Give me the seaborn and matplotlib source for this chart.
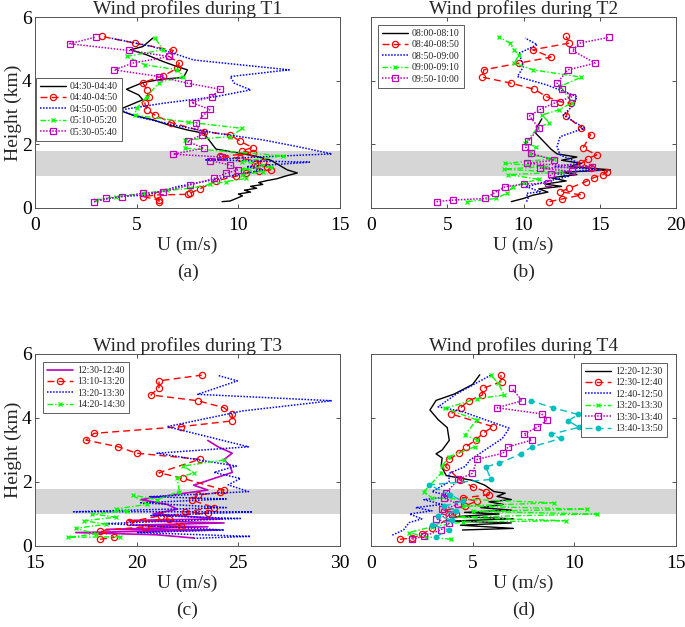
import numpy as np
import seaborn as sns
import matplotlib
matplotlib.use("Agg")
import matplotlib.pyplot as plt

# ---------------- datos ----------------
# (a) T1
t1_labels = ["04:30-04:40", "04:40-04:50", "04:50-05:00", "05:10-05:20", "05:30-05:40"]
t1_k_u = [9.2, 9.6, 9.9, 10.2, 10.0, 10.6, 10.3, 10.9, 10.6, 11.2, 11.0, 11.4, 11.9, 12.3, 12.9,
          12.4, 12.0, 11.6, 10.9, 10.1, 8.9, 8.6, 8.3, 7.5, 6.6, 5.8, 4.8, 4.1, 4.7, 5.3, 5.1,
          4.5, 5.3, 6.3, 7.3, 7.5, 7.0, 6.3, 5.5, 4.7, 5.3, 5.8]
t1_k_h = [0.2, 0.22, 0.3, 0.38, 0.44, 0.5, 0.56, 0.62, 0.68, 0.74, 0.8, 0.86, 0.92, 1.0, 1.1,
          1.2, 1.35, 1.5, 1.62, 1.72, 1.85, 2.1, 2.35, 2.45, 2.6, 2.77, 2.92, 3.08, 3.24, 3.4, 3.55,
          3.73, 3.94, 4.05, 4.1, 4.34, 4.44, 4.6, 4.81, 4.97, 5.07, 5.34]
t1_r_u = [6.1, 6.1, 5.3, 6.0, 7.5, 7.6, 8.1, 8.9, 9.9, 10.4, 11.0, 11.6, 11.4, 10.8, 11.2, 10.1,
          9.1, 10.7, 10.2, 10.7, 10.1, 9.6, 8.3, 6.7, 5.9, 5.5, 5.4, 5.6, 5.5, 5.3, 6.3, 7.0, 7.1,
          6.6, 6.8, 4.9, 3.3]
t1_r_h = [0.18, 0.25, 0.36, 0.41, 0.43, 0.46, 0.6, 0.85, 1.0, 1.1, 1.15, 1.2, 1.3, 1.38, 1.45,
          1.56, 1.62, 1.72, 1.8, 1.9, 2.09, 2.3, 2.4, 2.68, 2.92, 3.08, 3.29, 3.5, 3.71, 3.94, 4.15,
          4.39, 4.55, 4.76, 4.95, 5.18, 5.39]
t1_b_u = [3.2, 4.2, 5.5, 7.0, 8.3, 9.9, 11.2, 10.4, 13.5, 8.4, 11.2, 14.6, 12.9, 11.2, 8.9, 6.8,
          5.0, 4.2, 6.3, 8.9, 10.6, 9.8, 9.6, 12.5, 7.8, 5.8, 3.7]
t1_b_h = [0.25, 0.36, 0.41, 0.67, 0.83, 1.04, 1.19, 1.3, 1.44, 1.51, 1.61, 1.7, 1.93, 2.14, 2.35,
          2.61, 2.87, 3.08, 3.29, 3.5, 3.71, 3.92, 4.13, 4.34, 4.65, 5.07, 5.34]
t1_g_u = [3.0, 4.0, 5.3, 6.5, 7.6, 8.6, 9.4, 10.4, 10.2, 11.2, 10.2, 11.6, 10.2, 12.2, 7.4, 7.4,
          9.6, 10.2, 7.5, 4.9, 5.0, 5.5, 6.1, 7.3, 7.0, 5.4, 4.5, 6.3, 5.9]
t1_g_h = [0.25, 0.36, 0.46, 0.55, 0.62, 0.74, 0.83, 0.93, 1.04, 1.14, 1.22, 1.3, 1.46, 1.64, 1.88,
          2.14, 2.24, 2.5, 2.7, 2.92, 3.13, 3.5, 3.94, 4.13, 4.34, 4.5, 4.76, 4.97, 5.34]
t1_m_u = [2.9, 3.5, 4.3, 5.3, 6.3, 7.6, 8.8, 9.4, 10.0, 9.6, 8.6, 9.2, 6.8, 8.3, 7.5, 8.2, 7.9,
          8.3, 8.6, 7.7, 8.7, 9.1, 7.5, 6.1, 3.9, 4.8, 6.6, 4.6, 1.7, 3.0]
t1_m_h = [0.2, 0.3, 0.36, 0.46, 0.51, 0.72, 0.93, 1.09, 1.2, 1.35, 1.49, 1.6, 1.69, 1.88, 2.09,
          2.3, 2.66, 2.92, 3.1, 3.31, 3.5, 3.73, 3.92, 4.13, 4.34, 4.55, 4.76, 4.95, 5.16, 5.37]

# (b) T2
t2_labels = ["08:00-08:10", "08:40-08:50", "08:50-09:00", "09:00-09:10", "09:50-10:00"]
t2_k_u = [9.2, 10.0, 10.6, 11.6, 11.0, 12.5, 11.4, 12.8, 11.8, 13.5, 12.5, 15.7, 13.0, 13.8, 12.5,
          13.5, 12.2, 11.8, 11.3, 10.8, 10.9, 11.2]
t2_k_h = [0.2, 0.3, 0.4, 0.5, 0.6, 0.68, 0.75, 0.85, 0.95, 1.05, 1.12, 1.2, 1.3, 1.4, 1.5, 1.6,
          1.7, 1.85, 2.1, 2.35, 2.55, 2.8]
t2_r_u = [11.7, 12.5, 13.8, 12.4, 13.0, 14.1, 14.6, 15.2, 15.5, 14.4, 13.8, 14.2, 14.8, 13.9, 14.4,
          13.8, 12.8, 13.1, 12.4, 11.5, 10.7, 9.2, 7.3, 7.4, 9.7, 11.8, 10.6, 13.0, 12.8]
t2_r_h = [0.2, 0.28, 0.41, 0.51, 0.62, 0.83, 0.95, 1.05, 1.14, 1.25, 1.4, 1.55, 1.67, 1.88, 2.3,
          2.51, 2.89, 3.29, 3.34, 3.5, 3.73, 3.92, 4.11, 4.34, 4.55, 4.74, 4.97, 5.18, 5.39]
t2_b_u = [10.2, 10.3, 10.2, 11.1, 10.2, 11.5, 13.0, 12.0, 15.0, 12.0, 13.7, 12.4, 12.2, 12.4, 14.0,
          12.6, 13.3, 13.5, 11.5, 9.6, 10.0, 9.7, 10.9, 10.1]
t2_b_h = [0.2, 0.3, 0.46, 0.51, 0.67, 0.83, 1.0, 1.1, 1.2, 1.3, 1.4, 1.67, 1.93, 2.24, 2.51, 2.92,
          3.24, 3.5, 3.87, 4.13, 4.44, 4.86, 5.13, 5.34]
t2_g_u = [6.3, 8.2, 8.9, 9.3, 10.0, 11.0, 9.0, 12.5, 8.7, 11.5, 8.8, 12.0, 10.4, 10.8, 10.1, 10.9,
          11.7, 11.2, 12.3, 13.2, 12.4, 13.8, 10.6, 9.4, 9.7, 9.4, 9.1, 8.4]
t2_g_h = [0.2, 0.3, 0.46, 0.67, 0.78, 0.9, 1.05, 1.12, 1.22, 1.3, 1.4, 1.55, 1.67, 1.93, 2.03,
          2.51, 2.68, 2.92, 3.08, 3.31, 3.82, 4.11, 4.34, 4.55, 4.81, 4.97, 5.18, 5.37]
t2_m_u = [4.3, 5.4, 7.5, 8.1, 8.8, 10.0, 11.6, 11.8, 13.2, 11.1, 14.5, 10.2, 12.0, 10.5, 10.1,
          10.3, 11.0, 10.4, 11.1, 12.0, 13.2, 12.5, 12.2, 12.9, 14.7, 13.2, 13.7, 15.6]
t2_m_h = [0.2, 0.25, 0.3, 0.48, 0.67, 0.75, 0.78, 1.07, 1.15, 1.25, 1.3, 1.4, 1.5, 1.72, 1.93,
          2.09, 2.51, 2.89, 3.1, 3.29, 3.5, 3.73, 3.92, 4.34, 4.55, 4.95, 5.18, 5.36]

# (c) T3
t3_labels = ["12:30-12:40", "13:10-13:20", "13:20-13:30", "14:20-14:30"]
t3_m_u = [22.8, 21.0, 17.0, 24.0, 18.5, 23.5, 19.8, 24.3, 19.6, 24.2, 20.8, 22.0, 21.5, 20.2, 21.8,
          23.5, 22.8, 24.7, 24.6, 24.3, 24.7, 24.0, 23.5]
t3_m_h = [0.25, 0.35, 0.42, 0.5, 0.52, 0.6, 0.65, 0.72, 0.8, 0.85, 1.0, 1.15, 1.3, 1.45, 1.6, 1.75,
          1.9, 2.3, 2.5, 2.7, 2.9, 3.1, 3.3]
t3_r_u = [18.2, 18.9, 18.2, 20.4, 22.2, 21.6, 19.6, 21.2, 23.5, 22.4, 23.8, 22.7, 23.0, 24.1, 24.3,
          22.3, 21.1, 23.1, 20.0, 19.1, 17.5, 17.9, 22.2, 24.7, 24.7, 24.3, 23.0, 20.7, 21.1, 21.1, 23.2]
t3_r_h = [0.21, 0.27, 0.48, 0.6, 0.62, 0.84, 0.75, 0.95, 1.02, 1.07, 1.2, 1.44, 1.59, 1.68, 1.75,
          2.11, 2.29, 2.71, 2.9, 3.1, 3.31, 3.52, 3.73, 3.91, 4.11, 4.32, 4.54, 4.72, 4.95, 5.16, 5.34]
t3_b_u = [22.8, 25.6, 20.0, 24.3, 18.5, 25.1, 20.7, 25.7, 16.9, 24.4, 20.2, 24.4, 20.6, 25.5, 24.5,
          25.1, 23.8, 24.9, 21.0, 25.5, 21.5, 25.2, 29.6, 23.0, 24.95, 24.0]
t3_b_h = [0.24, 0.3, 0.42, 0.5, 0.7, 0.86, 0.95, 1.07, 1.07, 1.2, 1.35, 1.47, 1.54, 1.7, 1.91, 2.11,
          2.3, 2.5, 2.9, 3.1, 3.73, 4.22, 4.54, 4.74, 5.16, 5.33]
t3_g_u = [19.2, 16.6, 18.0, 17.0, 18.5, 17.4, 19.0, 17.8, 19.5, 19.0, 20.5, 19.8, 21.0, 22.1, 22.0,
          22.8, 22.3, 24.3]
t3_g_h = [0.29, 0.27, 0.38, 0.55, 0.68, 0.79, 0.9, 1.0, 1.1, 1.16, 1.3, 1.59, 1.45, 1.7, 2.11,
          2.29, 2.5, 2.69]

# (d) T4
t4_labels = ["12:20-12:30", "12:30-12:40", "12:40-12:50", "13:20-13:30", "13:30-13:40", "13:40-13:50"]
t4_k_u = [4.5, 7.0, 4.4, 6.9, 4.0, 7.0, 4.2, 6.3, 4.6, 6.9, 5.4, 6.5, 5.8, 6.9, 6.2, 6.6, 6.05,
          5.6, 5.0, 3.7, 3.45, 3.5, 3.2, 3.5, 3.85, 3.75, 3.3, 2.9, 3.2, 4.1, 5.0, 5.35]
t4_k_h = [0.5, 0.55, 0.65, 0.72, 0.78, 0.85, 0.92, 1.0, 1.05, 1.12, 1.2, 1.3, 1.38, 1.45, 1.55,
          1.65, 1.7, 1.9, 2.05, 2.2, 2.5, 2.75, 2.88, 3.0, 3.3, 3.7, 3.95, 4.25, 4.55, 4.75, 5.05, 5.35]
t4_r_u = [1.43, 2.03, 2.49, 3.0, 3.84, 4.2, 3.6, 4.6, 5.2, 4.5, 5.8, 5.64, 5.0, 4.38, 3.67, 3.84,
          4.33, 4.66, 5.15, 5.5, 6.0, 3.92, 4.41, 4.8, 5.48, 5.52, 6.43, 6.38]
t4_r_h = [0.21, 0.25, 0.36, 0.55, 0.86, 1.0, 1.1, 1.25, 1.4, 1.5, 1.6, 1.7, 1.85, 2.06, 2.48, 2.71,
          2.9, 3.1, 3.31, 3.52, 3.73, 4.13, 4.32, 4.54, 4.72, 4.93, 5.14, 5.34]
t4_b_u = [1.05, 1.6, 1.87, 2.5, 1.9, 3.0, 2.2, 3.5, 2.6, 4.0, 3.0, 3.84, 3.84, 4.62, 4.87, 6.46,
          6.8, 5.6, 4.5, 3.3, 4.2, 5.2, 5.9]
t4_b_h = [0.34, 0.5, 0.73, 0.85, 1.0, 1.1, 1.2, 1.3, 1.45, 1.55, 1.7, 2.0, 2.27, 2.48, 2.69, 3.36,
          3.68, 3.95, 4.2, 4.35, 4.75, 5.1, 5.34]
t4_g_u = [3.92, 2.69, 1.87, 3.0, 4.5, 9.6, 4.0, 11.1, 5.0, 10.6, 4.5, 9.0, 3.0, 2.6, 3.44, 3.5,
          3.84, 5.1, 5.2, 4.62, 5.2, 3.64, 5.2, 6.56, 6.23, 5.9]
t4_g_h = [0.21, 0.29, 0.42, 0.6, 0.75, 0.79, 0.9, 1.0, 1.08, 1.15, 1.25, 1.35, 1.5, 1.7, 2.27, 2.5,
          2.79, 3.1, 3.31, 3.47, 3.94, 4.3, 4.6, 4.72, 5.1, 5.34]
t4_m_u = [2.03, 2.61, 3.43, 3.84, 3.2, 4.0, 3.5, 4.3, 3.6, 3.67, 4.3, 4.98, 5.23, 6.49, 6.75, 7.9,
          7.52, 8.18, 8.67, 8.39, 6.21, 7.44, 6.92]
t4_m_h = [0.21, 0.31, 0.5, 0.71, 0.85, 1.0, 1.15, 1.3, 1.5, 1.65, 2.08, 2.27, 2.71, 2.9, 3.1, 3.31,
          3.5, 3.71, 3.94, 4.13, 4.32, 4.54, 4.93]
t4_c_u = [3.2, 3.84, 3.0, 4.0, 3.3, 4.2, 3.6, 4.5, 3.9, 2.85, 5.9, 5.64, 6.3, 7.36, 7.93, 9.33,
          8.84, 10.23, 9.7, 10.18, 8.95, 7.85]
t4_c_h = [0.29, 0.5, 0.65, 0.8, 0.95, 1.1, 1.25, 1.4, 1.6, 1.91, 2.08, 2.48, 2.58, 2.88, 3.1, 3.36,
          3.49, 3.71, 3.91, 4.11, 4.32, 4.54]

# ---------------- estilos ----------------
dot = (0, (1, 1))
estilos = {
    "k": dict(color="k", linestyle="-", marker=None, lw=1.0),
    "r": dict(color="r", linestyle=(0, (5, 3)), marker="o", ms=4.5, mfc="none", lw=1.0),
    "b": dict(color="b", linestyle=dot, marker=None, lw=1.1),
    "g": dict(color="#00ff00", linestyle=(0, (4, 1.5, 1, 1.5)), marker="x", ms=3.5, mfc="none", lw=1.0),
    "m": dict(color="m", linestyle=dot, marker="s", ms=4.2, mfc="none", lw=1.1),
    "ms": dict(color="m", linestyle="-", marker=None, lw=1.2),
    "c": dict(color="c", linestyle=(0, (5, 3)), marker="o", ms=3.3, mfc="c", lw=1.0),
}

sns.set_style("ticks")
plt.rcParams["font.family"] = ["Liberation Serif", "DejaVu Serif"]

fig = plt.figure(figsize=(6.85, 6.27), dpi=100)
W, H = 685, 627


def ejes(x0, y_top, y_bot, w=305):
    return fig.add_axes([x0 / W, 1 - y_bot / H, w / W, (y_bot - y_top) / H])


def perfil(ax, u, h, clave, etiqueta):
    e = estilos[clave]
    kw = dict(color=e["color"], linestyle=e["linestyle"], linewidth=e["lw"])
    if e["marker"]:
        kw.update(marker=e["marker"], markersize=e["ms"], markerfacecolor=e["mfc"],
                  markeredgecolor=e["color"], markeredgewidth=0.9)
    sns.lineplot(x=np.array(u), y=np.array(h), ax=ax, sort=False, estimator=None,
                 label=etiqueta, legend=False, **kw)


paneles = [
    (ejes(35, 17, 208), "T1", (0, 15), [0, 5, 10, 15], "(a)",
     [(t1_k_u, t1_k_h, "k"), (t1_r_u, t1_r_h, "r"), (t1_b_u, t1_b_h, "b"),
      (t1_g_u, t1_g_h, "g"), (t1_m_u, t1_m_h, "m")], t1_labels,
     dict(loc="upper left", bbox_to_anchor=(0.003, 0.68)), True),
    (ejes(371, 17, 208), "T2", (0, 20), [0, 5, 10, 15, 20], "(b)",
     [(t2_k_u, t2_k_h, "k"), (t2_r_u, t2_r_h, "r"), (t2_b_u, t2_b_h, "b"),
      (t2_g_u, t2_g_h, "g"), (t2_m_u, t2_m_h, "m")], t2_labels,
     dict(loc="upper left", bbox_to_anchor=(0.023, 0.958)), False),
    (ejes(35, 354, 546), "T3", (15, 30), [15, 20, 25, 30], "(c)",
     [(t3_m_u, t3_m_h, "ms"), (t3_r_u, t3_r_h, "r"), (t3_b_u, t3_b_h, "b"),
      (t3_g_u, t3_g_h, "g")], t3_labels,
     dict(loc="upper left", bbox_to_anchor=(0.026, 0.958)), True),
    (ejes(371, 354, 546), "T4", (0, 15), [0, 5, 10, 15], "(d)",
     [(t4_k_u, t4_k_h, "k"), (t4_r_u, t4_r_h, "r"), (t4_b_u, t4_b_h, "b"),
      (t4_g_u, t4_g_h, "g"), (t4_m_u, t4_m_h, "m"), (t4_c_u, t4_c_h, "c")], t4_labels,
     dict(loc="upper right", bbox_to_anchor=(0.97, 0.953)), False),
]

for ax, nombre, xlim, xt, letra, series, etiquetas, leg, izq in paneles:
    ax.axhspan(1.0, 1.78, color="#d6d6d6", lw=0, zorder=0)
    for (u, h, clave), et in zip(series, etiquetas):
        perfil(ax, u, h, clave, et)
    ax.set_xlim(*xlim)
    ax.set_ylim(0, 6)
    ax.set_xticks(xt)
    ax.set_yticks([0, 2, 4, 6])
    ax.tick_params(direction="in", top=True, right=True, length=3, width=0.6,
                   labelsize=14, colors="#333333", labelcolor="black")
    ax.tick_params(axis="x", pad=6.5)
    ax.tick_params(axis="y", pad=2.5)
    for s in ax.spines.values():
        s.set_color("#555555")
        s.set_linewidth(0.7)
    if izq:
        ax.set_ylabel("Height (km)", fontsize=14, labelpad=0)
    else:
        ax.set_yticklabels([])
        ax.set_ylabel("")
    ax.set_xlabel("U (m/s)", fontsize=14, labelpad=2)
    ax.set_title("Wind profiles during " + nombre, fontsize=14, pad=2)
    lg = ax.legend(fontsize=7, frameon=True, fancybox=False, framealpha=1,
                   edgecolor="#444444", borderaxespad=0, handlelength=2.7,
                   labelspacing=0.25, borderpad=0.4, handletextpad=0.4, **leg)
    lg.get_frame().set_linewidth(0.6)
    pos = ax.get_position()
    fig.text(pos.x0 + pos.width / 2, pos.y0 - 64 / H, letra, ha="center", va="center", fontsize=14)

fig.savefig("out.png", dpi=100)
